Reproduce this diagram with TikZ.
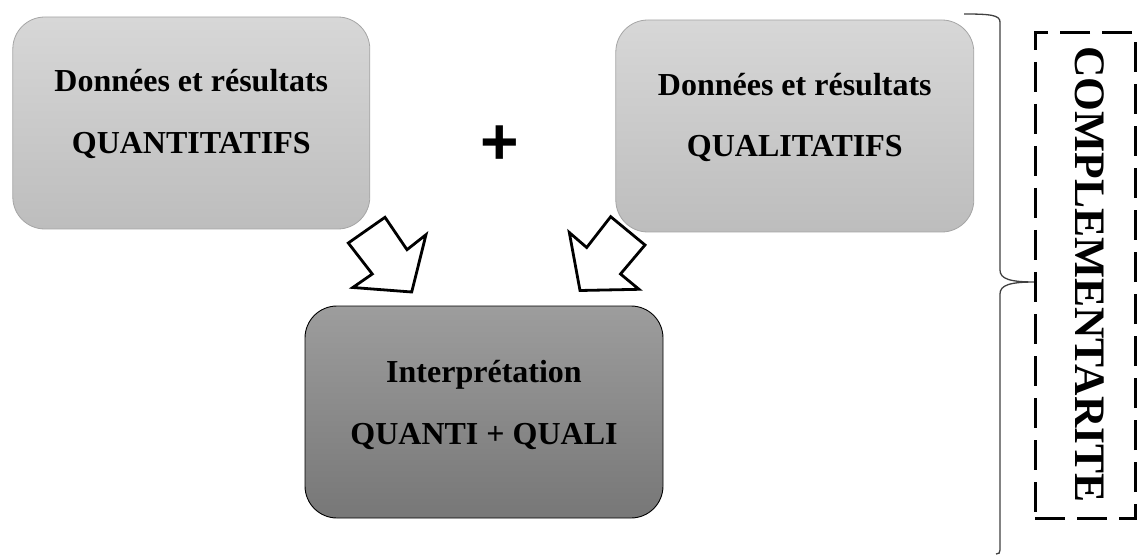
\documentclass[tikz,border=0pt]{standalone}
\usepackage{fontspec}
\setmainfont{Liberation Serif}
\newfontfamily\plusfont{Liberation Sans}
\begin{document}
\begin{tikzpicture}[x=1pt,y=-1pt,
  lightbox/.style={draw=boxedge, line width=0.8pt, rounded corners=32pt, top color=lighttop, bottom color=lightbot, minimum width=357pt, minimum height=212pt, inner sep=0pt},
  darkbox/.style={draw=black, line width=0.9pt, rounded corners=32pt, top color=darktop, bottom color=darkbot, minimum width=358pt, minimum height=212pt, inner sep=0pt},
  label/.style={font=\fontsize{32}{38}\selectfont\bfseries, inner sep=0pt, anchor=base},
  blockarrow/.style={draw=black, line width=2.8pt, line join=miter, fill=white},
  dashbox/.style={draw=black, line width=3pt, dash pattern=on 30pt off 12pt, minimum width=100pt, minimum height=485pt, inner sep=0pt},
  bracestyle/.style={draw=braceline, line width=1.3pt}
]
\definecolor{boxedge}{HTML}{A5A5A5}
\definecolor{lighttop}{HTML}{D7D7D7}
\definecolor{lightbot}{HTML}{BDBDBD}
\definecolor{darktop}{HTML}{9D9D9D}
\definecolor{darkbot}{HTML}{777777}
\definecolor{braceline}{HTML}{404040}
\useasboundingbox (0,0) rectangle (1141,556);

% boxes
\node[lightbox] (quant) at (191.3,123) {};
\node[lightbox, minimum width=358pt] (qual) at (794.8,126) {};
\node[darkbox] (interp) at (484,412) {};

% texts
\node[label] (quant1) at (191.3,92) {Données et résultats};
\node[label] (quant2) at (191.3,154) {QUANTITATIFS};
\node[label] (qual1) at (794.8,96) {Données et résultats};
\node[label] (qual2) at (794.8,157) {QUALITATIFS};
\node[label] (interp1) at (484,382) {Interprétation};
\node[label] (interp2) at (484,444) {QUANTI + QUALI};

% plus sign
\node[font=\plusfont\fontsize{66}{70}\selectfont\bfseries, inner sep=0pt, anchor=base] (plus) at (500,164.5) {+};

% block arrows
\draw[blockarrow] (385,217.3) -- (407,249.7) -- (426,234.7) -- (411.7,292) -- (352.8,287.5) -- (372.3,274) -- (348.3,243) -- cycle;
\draw[blockarrow] (610.7,216.7) -- (645,245) -- (620.5,274) -- (639,289.3) -- (580,290.5) -- (569.3,232.5) -- (586.7,247.5) -- cycle;

% brace
\coordinate (btop) at (964,14);
\coordinate (btip) at (1035,282);
\coordinate (bbot) at (996,554);
\draw[bracestyle] (btop) .. controls (990,14) and (1000,15) .. (1000,22) -- (1000,270)
  .. controls (1000,279) and (1010,282) .. (btip)
  .. controls (1010,282) and (1000,285) .. (1000,294) -- (1000,550)
  .. controls (1000,553) and (999,554) .. (bbot);

% dashed box and text
\node[dashbox] (cbox) at (1085,275.5) {};
\node[font=\fontsize{43.5}{48}\selectfont\bfseries, inner sep=0pt, rotate=-90] (ctext) at (1090,274.5) {COMPLEMENTARITE};
\end{tikzpicture}
\end{document}
